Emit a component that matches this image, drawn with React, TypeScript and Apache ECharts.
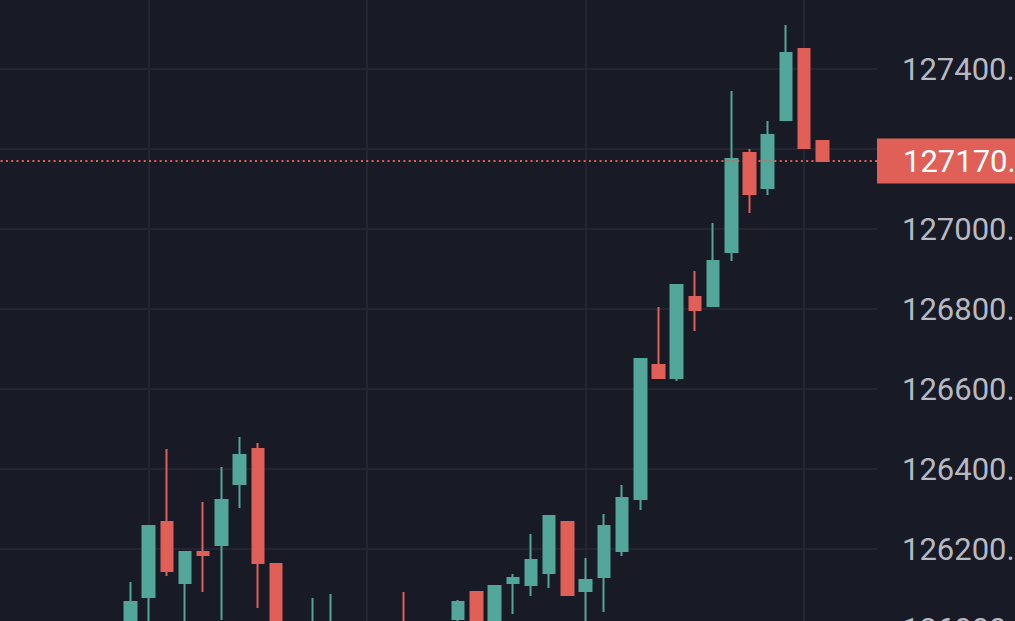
import React, { useEffect, useRef } from "react";
import * as echarts from "echarts";

// Candles, left to right (the first ones and several others sit below the visible price range)
const opens = [
  125930, 125960, 125945, 125975, 125955, 125985, 125965, 125990,
  125990, 126080, 126267.5, 126115, 126192.5, 126210, 126362.5, 126450, 126162.5, 125980,
  125965, 126005, 126010, 125985, 125970, 126005, 125975, 125990, 126025, 126092.5,
  126000, 126115, 126110, 126140, 126267.5, 126095, 126130, 126195, 126325, 126660,
  126627.5, 126830, 126807.5, 126942.5, 127190, 127102.5, 127272.5, 127450, 127220,
];
const closes = [
  125960, 125945, 125975, 125955, 125985, 125965, 125990, 125975,
  126067.5, 126257.5, 126145, 126192.5, 126185, 126322.5, 126435, 126165, 125980, 125960,
  126005, 126010, 125985, 125970, 125995, 125975, 125990, 126012, 126067.5, 126000,
  126107.5, 126127.5, 126172.5, 126282.5, 126085, 126122.5, 126257.5, 126327.5, 126675, 126627.5,
  126860, 126797.5, 126920, 127175, 127087.5, 127235, 127440, 127202.5, 127170,
];
const lows = [
  125910, 125925, 125935, 125940, 125945, 125950, 125955, 125960,
  125960, 126000, 126132.5, 126000, 126092.5, 126022.5, 126302.5, 126052.5, 125950, 125930,
  125945, 125975, 125970, 125950, 125955, 125960, 125965, 125980, 126005, 125990,
  125990, 126037.5, 126082.5, 126102.5, 126085, 126010, 126042.5, 126182.5, 126297.5, 126627.5,
  126620, 126745, 126807.5, 126920, 127040, 127085, 127272.5, 127202.5, 127167.5,
];
const highs = [
  125975, 125980, 125990, 125995, 126000, 126005, 126010, 126015,
  126117.5, 126257.5, 126450, 126192.5, 126317.5, 126405, 126480, 126465, 126162.5, 126005,
  126077.5, 126087.5, 126015, 126010, 126012, 126092.5, 126010, 126015, 126072.5, 126092.5,
  126107.5, 126137.5, 126237.5, 126282.5, 126267.5, 126177.5, 126287.5, 126360, 126675, 126805,
  126860, 126895, 127015, 127345, 127200, 127270, 127510, 127450, 127220,
];

// Three empty slots follow the last candle
const EMPTY_SLOTS = 3;
const categories = Array.from({ length: opens.length + EMPTY_SLOTS }, (_, i) => String(i + 1));

const lastPrice = closes[closes.length - 1];

const yMin = 126000;
const yMax = 127600;
const yStep = 200;

const UP = "#53a69a";
const DOWN = "#e05f57";
const BG = "#181a25";
const GRID = "#272a36";
const LABEL = "#b6b9c1";

export default function App() {
  const ref = useRef<HTMLDivElement>(null);

  useEffect(() => {
    if (!ref.current) return;
    const chart = echarts.init(ref.current, undefined, { renderer: "svg" });
    const candleData = opens.map((o, i) => [o, closes[i], lows[i], highs[i]]);

    chart.setOption({
      animation: false,
      backgroundColor: BG,
      grid: {
        left: -15.3,
        right: 138,
        top: -11,
        height: 640,
        containLabel: false,
        outerBoundsMode: "none",
      },
      xAxis: {
        type: "category",
        data: categories,
        boundaryGap: false,
        axisLine: { show: false },
        axisTick: { show: false },
        axisLabel: { show: false },
        splitLine: {
          show: true,
          interval: (index: number) => index % 12 === 9,
          lineStyle: { color: GRID, width: 1.5 },
        },
      },
      yAxis: {
        type: "value",
        position: "right",
        min: yMin,
        max: yMax,
        interval: yStep,
        axisLine: { show: false },
        axisTick: { show: false },
        splitLine: { show: true, lineStyle: { color: GRID, width: 1.5 } },
        axisLabel: {
          color: LABEL,
          fontSize: 31,
          fontFamily: "Roboto",
          margin: 25,
          // the tick label under the last-price tag is hidden by it
          formatter: (v: number) => (Math.abs(v - lastPrice) < 56 ? "" : v.toFixed(2)),
        },
      },
      series: [
        {
          type: "candlestick",
          data: candleData,
          barWidth: 12,
          itemStyle: {
            color: UP,
            color0: DOWN,
            borderColor: UP,
            borderColor0: DOWN,
            borderWidth: 2,
          },
          markLine: {
            silent: true,
            symbol: ["none", "none"],
            lineStyle: { color: DOWN, type: [2, 3.3], width: 2 },
            label: {
              show: true,
              position: "end",
              distance: 0,
              formatter: (p: any) => Number(p.value).toFixed(2),
              color: "#ffffff",
              backgroundColor: DOWN,
              fontSize: 31,
              fontFamily: "Roboto",
              lineHeight: 35,
              padding: [5, 0, 5, 26],
            },
            data: [{ yAxis: lastPrice }],
          },
        },
      ],
    });

    return () => chart.dispose();
  }, []);

  return (
    <div
      ref={ref}
      style={{ position: "fixed", left: 0, top: 0, width: 1015, height: 621, background: BG }}
    />
  );
}
